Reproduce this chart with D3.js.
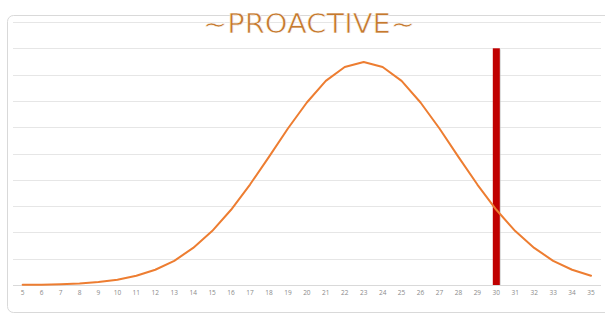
<!DOCTYPE html>
<html><head><meta charset="utf-8">
<script src="https://cdn.jsdelivr.net/npm/d3@7"></script>
<style>html,body{margin:0;padding:0;background:#fff;}svg{display:block;}</style>
</head><body>
<svg id="c" width="605" height="314"></svg>
<script>
const categories = [5,6,7,8,9,10,11,12,13,14,15,16,17,18,19,20,21,22,23,24,25,26,27,28,29,30,31,32,33,34,35];
const curveValues = [0.006,0.014,0.029,0.058,0.11,0.20,0.35,0.58,0.92,1.41,2.05,2.86,3.82,4.87,5.95,6.94,7.76,8.29,8.48,8.29,7.76,6.94,5.95,4.87,3.82,2.86,2.05,1.41,0.92,0.58,0.35];
const markerCategory = [30];
const markerValue = [9];
const yTicks = [0,1,2,3,4,5,6,7,8,9,10];
const title = "~PROACTIVE~";

const svg = d3.select("#c");
const x = d3.scaleBand().domain(categories).range([13.2, 600.5]).paddingInner(0).paddingOuter(0);
const y = d3.scaleLinear().domain([0,10]).range([285, 22]);

// outer border
svg.append("rect").attr("x",7.5).attr("y",15.5).attr("width",620).attr("height",297)
  .attr("rx",6).attr("fill","#fff").attr("stroke","#d9d9d9").attr("stroke-width",1);

// gridlines
svg.append("g").selectAll("line").data(yTicks.slice(1)).join("line")
  .attr("x1",13).attr("x2",601).attr("y1",d=>Math.round(y(d))+0.5).attr("y2",d=>Math.round(y(d))+0.5)
  .attr("stroke","#e6e6e6").attr("stroke-width",1);

// x axis
const xAxis = d3.axisBottom(x).tickSize(0).tickPadding(5);
const gx = svg.append("g").attr("transform","translate(0,285.5)").call(xAxis);
gx.select(".domain").attr("stroke","#d9d9d9").attr("d","M13,0H601");
gx.selectAll("text").attr("fill","#8a8a8a").style("font-family","'Open Sans', sans-serif").style("font-size","6.5px");

// marker bar
const bw = 7;
const bars = svg.append("g");
bars.selectAll("rect.sh").data(markerCategory).join("rect").attr("class","sh")
  .attr("x",d=>x(d)+x.bandwidth()/2-bw/2+1).attr("y",(d,i)=>y(markerValue[i])+1)
  .attr("width",bw).attr("height",(d,i)=>y(0)-y(markerValue[i])-1).attr("fill","#bbb").attr("opacity",0.6);
bars.selectAll("rect.b").data(markerCategory).join("rect").attr("class","b")
  .attr("x",d=>x(d)+x.bandwidth()/2-bw/2).attr("y",(d,i)=>y(markerValue[i]))
  .attr("width",bw).attr("height",(d,i)=>y(0)-y(markerValue[i])).attr("fill","#c00000");

// curve
const line = d3.line().x((d,i)=>x(categories[i])+x.bandwidth()/2).y(d=>y(d)).curve(d3.curveLinear);
svg.append("path").datum(curveValues).attr("d",line).attr("fill","none")
  .attr("stroke","#ed7d31").attr("stroke-width",2).attr("stroke-linejoin","round").attr("stroke-linecap","round");

// title
svg.append("text").attr("x",309).attr("y",32.5).attr("text-anchor","middle")
  .attr("textLength",212).attr("lengthAdjust","spacingAndGlyphs")
  .style("font-family","'DejaVu Sans', sans-serif").style("font-size","26px").style("font-weight","normal")
  .attr("fill","#c5792e").attr("stroke","#fff").attr("stroke-width",0.6).style("paint-order","normal").text(title);
</script>
</body></html>
